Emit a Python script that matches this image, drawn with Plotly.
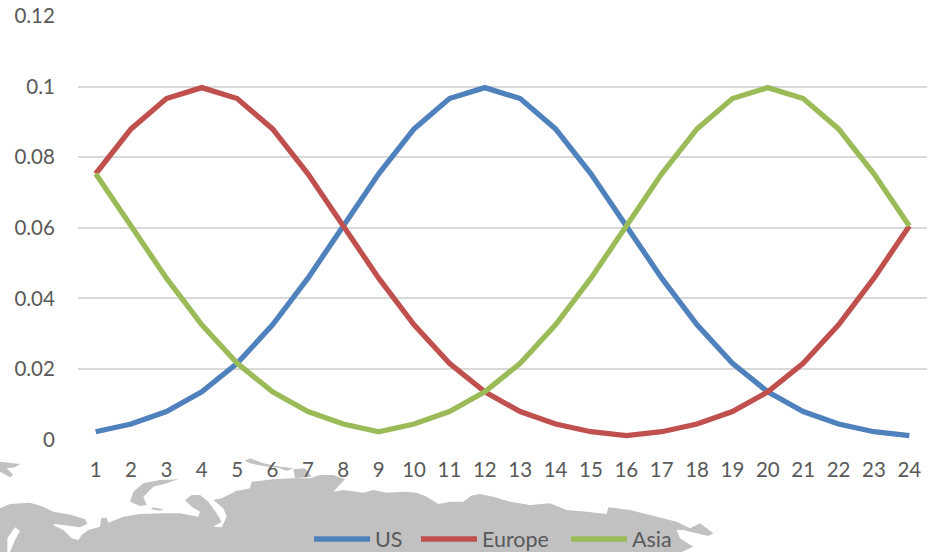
import plotly.graph_objects as go

hours = list(range(1, 25))
us = [.0022,.0044,.0079,.0135,.0216,.0325,.0457,.0605,.0753,.0880,.0966,.0997,.0966,.0880,.0753,.0605,.0457,.0325,.0216,.0135,.0079,.0044,.0022,.0011]
europe = [.0753,.0880,.0966,.0997,.0966,.0880,.0753,.0605,.0457,.0325,.0216,.0135,.0079,.0044,.0022,.0011,.0022,.0044,.0079,.0135,.0216,.0325,.0457,.0605]
asia = [.0753,.0605,.0457,.0325,.0216,.0135,.0079,.0044,.0022,.0044,.0079,.0135,.0216,.0325,.0457,.0605,.0753,.0880,.0966,.0997,.0966,.0880,.0753,.0605]
y_ticks = [0, .02, .04, .06, .08, .1, .12]
y_labels = ["0", "0.02", "0.04", "0.06", "0.08", "0.1", "0.12"]

W, H = 934, 552
TEXT = "#595959"
FONT = "Lato"

def z3(pts): return [(x / 3, 450 + y / 3) for x, y in pts]
def z4(pts): return [(230 + x / 3, 450 + y / 3) for x, y in pts]
def z5(pts): return [(470 + x / 3, 450 + y / 3) for x, y in pts]

land = z3([(0,175),(30,162),(90,158),(130,170),(160,185),(215,195),(255,208),(262,222),(240,232),(165,222),(160,226),(190,240),(215,265),(235,270),(245,255),(265,240),(300,230),(303,205),(320,203),(325,218),(370,200),(420,192),(490,190),(540,190),(595,200),(600,185),(575,170),(555,150),(575,135),(600,135),(625,155),(650,190),(665,215),(640,230),(665,232),(680,200),(670,175),(640,150),(665,145),(720,118)]) \
    + z4([(10,125),(60,115),(65,95),(130,88),(190,85),(240,85),(270,75),(310,75),(345,88),(330,105),(310,125),(340,120),(400,128),(430,120),(470,128),(520,125),(560,128),(590,140),(625,162),(660,155),(700,155),(720,140)]) \
    + z5([(0,138),(30,132),(70,140),(120,155),(180,165),(240,160),(290,180),(350,185),(410,192),(415,172),(480,180),(540,195),(620,215),(660,235),(690,220),(730,250),(715,258),(660,245),(640,240),(620,240),(630,265),(670,290),(640,302),(635,306)]) \
    + z3([(30,306),(45,270),(60,243),(45,232),(22,265),(22,306),(0,306)])
islands = [
    z3([(0,35),(60,42),(45,52),(20,55),(40,75),(30,82),(0,65)]),
    z3([(535,88),(500,100),(460,110),(430,140),(440,165),(420,168),(390,155),(400,125),(430,100),(480,90)]),
    z3([(455,172),(490,178),(480,182),(455,178)]),
    z4([(45,32),(60,25),(100,40),(150,50),(190,55),(170,62),(150,55),(100,48),(60,40)]),
    z4([(190,58),(225,55),(245,80),(195,85)]),
]

map_x, map_y = [], []
for poly in [land] + islands:
    map_x += [p[0] for p in poly] + [poly[0][0], None]
    map_y += [p[1] for p in poly] + [poly[0][1], None]

fig = go.Figure()
fig.add_trace(go.Scatter(x=map_x, y=map_y, mode="lines", fill="toself", fillcolor="#C1C1C1",
                         line=dict(width=0, color="#C1C1C1"), hoverinfo="skip", showlegend=False,
                         xaxis="x", yaxis="y"))
for name, vals, col, leg in [("US", us, "#4F81BD", "legend"), ("Europe", europe, "#C0504D", "legend2"), ("Asia", asia, "#9BBB59", "legend3")]:
    fig.add_trace(go.Scatter(x=hours, y=vals, name=name, mode="lines",
                             line=dict(color=col, width=5.3, shape="linear"),
                             xaxis="x2", yaxis="y2", legend=leg))

def legend_at(px):
    return dict(orientation="h", x=px / W, xanchor="left", y=13 / H, yanchor="middle",
                bgcolor="rgba(0,0,0,0)", itemwidth=56,
                font=dict(family=FONT, size=21.5, color=TEXT), itemsizing="trace")

fig.update_layout(
    width=W, height=H, autosize=False,
    margin=dict(l=0, r=0, t=0, b=0, autoexpand=False),
    paper_bgcolor="white", plot_bgcolor="rgba(0,0,0,0)",
    font=dict(family=FONT, size=20, color=TEXT),
    xaxis=dict(domain=[0, 1], range=[0, W], visible=False, fixedrange=True, automargin=False),
    yaxis=dict(domain=[0, 1], range=[H, 0], visible=False, fixedrange=True, automargin=False),
    xaxis2=dict(domain=[78 / W, 927 / W], range=[0.5, 24.5], anchor="y2", tickmode="array", automargin=False,
                tickvals=hours, ticktext=[str(h) for h in hours], showgrid=False, zeroline=False,
                showline=False, ticks="outside", ticklen=12, tickcolor="rgba(0,0,0,0)",
                tickfont=dict(family=FONT, size=20.5, color=TEXT)),
    yaxis2=dict(domain=[1 - 439.5 / H, 1 - 16 / H], range=[0, .12], anchor="x2", tickmode="array", automargin=False,
                tickvals=y_ticks, ticktext=y_labels, showgrid=True, gridcolor="#D9D9D9", gridwidth=2,
                zeroline=False, showline=False, ticks="outside", ticklen=18, tickcolor="rgba(0,0,0,0)",
                tickfont=dict(family=FONT, size=20.5, color=TEXT)),
    legend=legend_at(309),
    legend2=legend_at(416),
    legend3=legend_at(566),
    showlegend=True,
)
fig.write_html("out.html", config={"displayModeBar": False},
               post_script="document.body.style.margin='0';document.documentElement.style.overflow='hidden';")
